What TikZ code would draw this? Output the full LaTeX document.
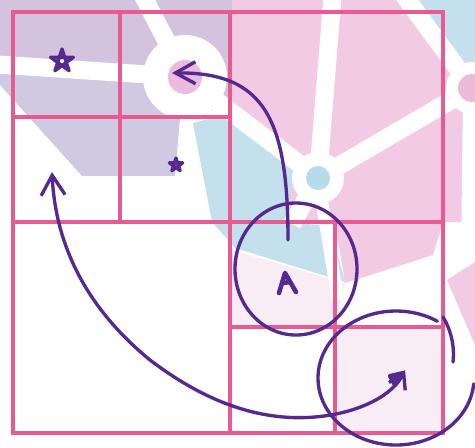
\documentclass[tikz,border=0pt]{standalone}
\usepackage{tikz}
\usetikzlibrary{arrows.meta,calc}

\definecolor{gridpink}{HTML}{E95A92}
\definecolor{penpurple}{HTML}{55298F}
\definecolor{lavbg}{HTML}{D4C3DF}
\definecolor{lavbgtwo}{HTML}{CFCAE2}
\definecolor{pinkbg}{HTML}{F3CAE4}
\definecolor{bluebg}{HTML}{C3E0EC}
\definecolor{faintpink}{HTML}{F8ECF5}
\definecolor{dotpink}{HTML}{ECBADA}
\definecolor{dotblue}{HTML}{B4DCEA}

% hand drawn five pointed star
\newcommand{\handstar}[2]{%
  \draw[pen] ($(#1)+(-90:#2)$) -- ($(#1)+(54:#2)$) -- ($(#1)+(198:#2)$)
    -- ($(#1)+(-18:#2)$) -- ($(#1)+(126:#2)$) -- cycle;}

\begin{document}
\begin{tikzpicture}[x=0.02cm,y=-0.02cm,
  gridline/.style={gridpink,line width=2.2pt},
  pen/.style={penpurple,line width=1.9pt,line cap=round,line join=round},
  band/.style={white,line width=0.36cm}]
  \useasboundingbox (0,0) rectangle (475,447);
  \coordinate (n1) at (185,77);
  \coordinate (n2) at (318,178);
  \coordinate (n3) at (472,88);

  % background logo
  \begin{scope}
    \clip (0,0) rectangle (475,447);
    \fill[lavbg] (0,0) -- (232,0) -- (232,105) -- (180,118) -- (140,72) -- (0,72) -- cycle;
    \fill[lavbgtwo] (0,70) -- (140,70) -- (180,118) -- (175,176) -- (82,176) -- (0,85) -- cycle;
    \fill[pinkbg] (232,0) rectangle (475,222);
    \fill[bluebg] (193,123) -- (235,112) -- (295,170) -- (285,222) -- (330,226) -- (345,282)
      -- (235,248) -- (212,222) -- cycle;
    \fill[bluebg] (400,0) -- (475,0) -- (475,70) -- cycle;
    \fill[pinkbg] (335,222) -- (443,222) -- (433,255) -- (345,283) -- cycle;
    \fill[pinkbg] (447,280) -- (475,262) -- (475,345) -- cycle;
    \fill[faintpink] (335,327) rectangle (443,433);
    \fill[faintpink] (232,250) -- (345,283) -- (335,327) -- (232,327) -- cycle;
    \draw[band] (n1) -- (-10,64);
    \draw[band] (n1) -- (140,-10);
    \draw[band] (n1) -- (n2);
    \draw[band] (n2) -- (333,-10);
    \draw[band] (n2) -- (n3);
    \draw[band] (n3) -- (400,-10);
    \draw[band] (n3) -- (470,260);
    \draw[band] (n2) -- (292,224);
    \draw[band,line width=0.25cm] (n2) -- (338,300);
    \draw[band,line width=0.25cm] (443,268) -- (480,248);
    \fill[white] (n1) circle (42);
    \fill[dotpink] (n1) circle (17);
    \fill[white] (n2) circle (26);
    \fill[dotblue] (n2) circle (12);
    \fill[white] (n3) circle (26);
    \fill[dotpink] (n3) circle (14);
  \end{scope}

  % quad tree grid
  \draw[gridline] (13,12) rectangle (443,433);
  \draw[gridline] (230,12) -- (230,433);
  \draw[gridline] (13,222) -- (443,222);
  \draw[gridline] (120,12) -- (120,222);
  \draw[gridline] (13,117) -- (230,117);
  \draw[gridline] (335,222) -- (335,433);
  \draw[gridline] (230,327) -- (443,327);

  % marks
  \coordinate (s1) at (62,61);
  \coordinate (s2) at (176,165);
  \coordinate (s3) at (286,283);
  \coordinate (s4) at (396,379);
  \handstar{s1}{12}
  \handstar{s2}{7}
  \draw[pen,line width=2.6pt] ($(s3)+(-7,10)$) -- ($(s3)+(-1,-10)$) -- ($(s3)+(10,9)$);
  \draw[pen,line width=2.6pt] ($(s3)+(-3,0)$) -- ($(s3)+(4,-1)$);
  \draw[pen,line width=2.4pt] ($(s4)+(-6,-3)$) -- ($(s4)+(7,-6)$) -- ($(s4)+(-1,6)$) -- cycle;

  % circles
  \coordinate (c1) at (296,269);
  \coordinate (c2) at (396,378);
  \draw[pen] (c1) ellipse [x radius=61,y radius=66];
  \draw[pen] ($(c2)+(5:78 and 67)$) arc[start angle=5,end angle=302,x radius=78,y radius=67];
  \draw[pen] (443,317) .. controls (450,328) and (455,345) .. (453,362);

  % arrows
  \coordinate (tipA) at (52,172);
  \coordinate (tipB) at (405,370);
  \coordinate (tipC) at (172,73);
  \coordinate (startC) at (288,240);
  \draw[pen,{Straight Barb[length=4mm,width=4.8mm]}-{Straight Barb[length=3mm,width=3.6mm]}]
    (tipA) .. controls (56,255) and (95,315) .. (150,360)
    .. controls (200,398) and (255,422) .. (315,417)
    .. controls (360,413) and (393,395) .. (tipB);
  \draw[pen,-{Straight Barb[length=4mm,width=4.4mm]}]
    (startC) .. controls (288,120) and (265,72) .. (tipC);
\end{tikzpicture}
\end{document}
